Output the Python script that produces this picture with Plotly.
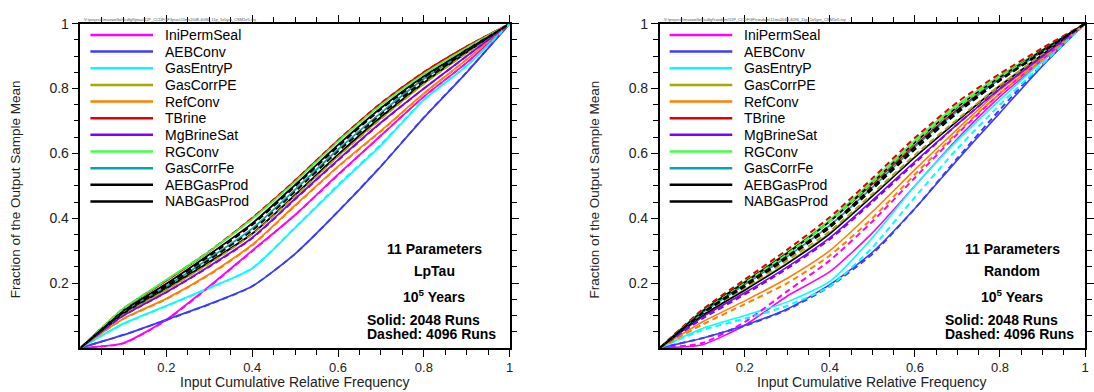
import plotly.graph_objects as go

W, H = 1094, 392

# Input cumulative relative frequency at which each curve is sampled
freq = [0.0, 0.1, 0.2, 0.3, 0.4, 0.5, 0.6, 0.7, 0.8, 0.9, 1.0]

param_names = ["IniPermSeal", "AEBConv", "GasEntryP", "GasCorrPE", "RefConv", "TBrine",
               "MgBrineSat", "RGConv", "GasCorrFe", "AEBGasProd", "NABGasProd"]
param_colors = ["#ff00ff", "#3c3cff", "#00ffff", "#a8a800", "#ff8000", "#e00000",
                "#8000ff", "#44ff44", "#00a8a8", "#000000", "#000000"]

# Fraction of the output sample mean, LpTau sampling, 2048 runs (one row per parameter)
lptau_2048 = [
    [0, 0.015, 0.087, 0.190, 0.300, 0.410, 0.535, 0.655, 0.775, 0.880, 1],
    [0, 0.040, 0.087, 0.135, 0.190, 0.290, 0.420, 0.560, 0.710, 0.850, 1],
    [0, 0.075, 0.130, 0.185, 0.245, 0.370, 0.500, 0.625, 0.765, 0.870, 1],
    [0, 0.103, 0.180, 0.262, 0.352, 0.470, 0.592, 0.708, 0.815, 0.910, 1],
    [0, 0.090, 0.152, 0.227, 0.318, 0.440, 0.560, 0.670, 0.785, 0.890, 1],
    [0, 0.120, 0.207, 0.297, 0.400, 0.516, 0.640, 0.754, 0.850, 0.930, 1],
    [0, 0.100, 0.172, 0.252, 0.340, 0.460, 0.580, 0.695, 0.800, 0.900, 1],
    [0, 0.122, 0.210, 0.298, 0.398, 0.513, 0.637, 0.750, 0.845, 0.926, 1],
    [0, 0.110, 0.190, 0.276, 0.368, 0.488, 0.612, 0.725, 0.830, 0.915, 1],
    [0, 0.115, 0.198, 0.288, 0.384, 0.503, 0.626, 0.740, 0.838, 0.920, 1],
    [0, 0.106, 0.184, 0.265, 0.352, 0.472, 0.596, 0.712, 0.818, 0.912, 1],
]

# LpTau sampling, 4096 runs
lptau_4096 = [
    [0, 0.014, 0.085, 0.188, 0.298, 0.410, 0.533, 0.655, 0.775, 0.880, 1],
    [0, 0.040, 0.086, 0.134, 0.190, 0.290, 0.421, 0.561, 0.711, 0.851, 1],
    [0, 0.074, 0.129, 0.184, 0.246, 0.372, 0.503, 0.628, 0.766, 0.871, 1],
    [0, 0.102, 0.179, 0.260, 0.350, 0.468, 0.590, 0.706, 0.814, 0.910, 1],
    [0, 0.089, 0.150, 0.225, 0.316, 0.438, 0.558, 0.668, 0.784, 0.890, 1],
    [0, 0.121, 0.208, 0.298, 0.401, 0.517, 0.641, 0.755, 0.851, 0.930, 1],
    [0, 0.099, 0.171, 0.250, 0.338, 0.458, 0.578, 0.694, 0.800, 0.900, 1],
    [0, 0.121, 0.209, 0.297, 0.397, 0.512, 0.636, 0.749, 0.845, 0.926, 1],
    [0, 0.109, 0.189, 0.275, 0.366, 0.486, 0.610, 0.724, 0.829, 0.915, 1],
    [0, 0.112, 0.194, 0.283, 0.379, 0.498, 0.621, 0.736, 0.834, 0.918, 1],
    [0, 0.109, 0.189, 0.272, 0.362, 0.482, 0.606, 0.720, 0.824, 0.915, 1],
]

# Random sampling, 2048 runs
random_2048 = [
    [0, 0.010, 0.070, 0.160, 0.235, 0.355, 0.500, 0.645, 0.775, 0.885, 1],
    [0, 0.030, 0.070, 0.120, 0.195, 0.295, 0.430, 0.580, 0.725, 0.870, 1],
    [0, 0.060, 0.100, 0.142, 0.205, 0.340, 0.500, 0.640, 0.765, 0.885, 1],
    [0, 0.100, 0.180, 0.262, 0.355, 0.470, 0.590, 0.700, 0.810, 0.905, 1],
    [0, 0.080, 0.145, 0.215, 0.300, 0.420, 0.550, 0.675, 0.795, 0.895, 1],
    [0, 0.112, 0.200, 0.290, 0.390, 0.505, 0.625, 0.735, 0.830, 0.915, 1],
    [0, 0.095, 0.170, 0.250, 0.340, 0.455, 0.575, 0.690, 0.800, 0.900, 1],
    [0, 0.115, 0.205, 0.295, 0.395, 0.515, 0.640, 0.750, 0.840, 0.920, 1],
    [0, 0.108, 0.195, 0.282, 0.378, 0.495, 0.620, 0.730, 0.830, 0.915, 1],
    [0, 0.113, 0.203, 0.293, 0.390, 0.510, 0.633, 0.743, 0.835, 0.918, 1],
    [0, 0.100, 0.178, 0.260, 0.352, 0.468, 0.588, 0.700, 0.808, 0.905, 1],
]

# Random sampling, 4096 runs
random_4096 = [
    [0, 0.015, 0.080, 0.175, 0.270, 0.390, 0.525, 0.660, 0.785, 0.890, 1],
    [0, 0.030, 0.068, 0.118, 0.190, 0.290, 0.430, 0.585, 0.735, 0.875, 1],
    [0, 0.055, 0.090, 0.130, 0.190, 0.310, 0.465, 0.615, 0.750, 0.875, 1],
    [0, 0.105, 0.185, 0.270, 0.360, 0.475, 0.595, 0.705, 0.810, 0.905, 1],
    [0, 0.072, 0.135, 0.200, 0.285, 0.400, 0.535, 0.665, 0.785, 0.890, 1],
    [0, 0.118, 0.211, 0.303, 0.403, 0.523, 0.648, 0.758, 0.846, 0.925, 1],
    [0, 0.090, 0.165, 0.245, 0.335, 0.450, 0.570, 0.690, 0.800, 0.900, 1],
    [0, 0.110, 0.200, 0.290, 0.390, 0.510, 0.635, 0.745, 0.835, 0.915, 1],
    [0, 0.105, 0.190, 0.278, 0.372, 0.490, 0.615, 0.725, 0.825, 0.912, 1],
    [0, 0.108, 0.195, 0.283, 0.378, 0.497, 0.620, 0.732, 0.828, 0.914, 1],
    [0, 0.106, 0.190, 0.278, 0.372, 0.490, 0.612, 0.725, 0.825, 0.912, 1],
]

major_ticks = [0.2, 0.4, 0.6, 0.8, 1.0]
major_labels = ["0.2", "0.4", "0.6", "0.8", "1"]
minor_ticks = [round(0.05 * k, 2) for k in range(1, 20) if k % 4 != 0]

FONT = "Liberation Sans, Arial, sans-serif"


def xp(px):
    return px / W


def yp(py):
    return 1 - py / H


panels = [
    dict(xa="x", ya="y", left=81, right=513, solid=lptau_2048, dashed=lptau_4096,
         method="LpTau", note_x=437, note_left=367, solid_w=1.8, dash_w=1.8,
         path="V:\\projects\\maxwellwh\\cdfgf\\lptau\\11P_CCDFGF\\lptau\\11ms2048,4096_11p_1e5yrs_CSM1e5.txy"),
    dict(xa="x2", ya="y2", left=664, right=1092, solid=random_2048, dashed=random_4096,
         method="Random", note_x=1019, note_left=949, solid_w=1.6, dash_w=2.0,
         path="V:\\projects\\maxwellwh\\cdfgf\\random\\11P_CCDFGF\\random\\11ms2048,4096_11p_1e5yrs_CSM1e5.txy"),
]

fig = go.Figure()

for p in panels:
    for name, color, ys in zip(param_names, param_colors, p["solid"]):
        fig.add_trace(go.Scatter(x=freq, y=ys, mode="lines", name=name, showlegend=False,
                                 line=dict(color=color, width=p["solid_w"], shape="spline",
                                           smoothing=0.6),
                                 xaxis=p["xa"], yaxis=p["ya"]))
    for name, color, ys in zip(param_names, param_colors, p["dashed"]):
        fig.add_trace(go.Scatter(x=freq, y=ys, mode="lines", name=name, showlegend=False,
                                 line=dict(color=color, width=p["dash_w"], dash="6px,4px",
                                           shape="spline", smoothing=0.6),
                                 xaxis=p["xa"], yaxis=p["ya"]))

axis_common = dict(
    range=[0, 1], showline=True, linewidth=1.6, linecolor="black", mirror="allticks",
    ticks="outside", ticklen=7, tickwidth=1.2, tickcolor="black",
    tickvals=major_ticks, ticktext=major_labels,
    minor=dict(tickvals=minor_ticks, ticks="outside", ticklen=5, tickwidth=1.2, tickcolor="black"),
    showgrid=False, zeroline=False, fixedrange=True,
)
x_font = dict(family=FONT, size=13, color="#222222")
y_font = dict(family=FONT, size=14, color="#222222")

y_dom = [yp(347), yp(16)]
fig.update_layout(
    xaxis=dict(domain=[xp(81), xp(513)], anchor="y", tickfont=x_font, **axis_common),
    yaxis=dict(domain=y_dom, anchor="x", tickfont=y_font, **axis_common),
    xaxis2=dict(domain=[xp(664), xp(1092)], anchor="y2", tickfont=x_font, **axis_common),
    yaxis2=dict(domain=y_dom, anchor="x2", tickfont=y_font, **axis_common),
)

annotations = []
shapes = []

for p in panels:
    mid = (p["left"] + p["right"]) / 2
    # axis titles
    annotations.append(dict(xref="paper", yref="paper", x=xp(mid), y=yp(382),
                            text="Input Cumulative Relative Frequency", showarrow=False,
                            font=dict(family=FONT, size=14, color="#222222"),
                            xanchor="center", yanchor="middle"))
    annotations.append(dict(xref="paper", yref="paper", x=xp(p["left"] - 66), y=yp(185),
                            text="Fraction of the Output Sample Mean", showarrow=False,
                            textangle=-90, font=dict(family=FONT, size=13.5, color="#222222"),
                            xanchor="center", yanchor="middle"))
    # source file path printed above the frame
    annotations.append(dict(xref="paper", yref="paper", x=xp(p["left"] + 2), y=yp(12),
                            text=p["path"], showarrow=False,
                            font=dict(family=FONT, size=4, color="#555555"),
                            xanchor="left", yanchor="middle"))
    # legend block
    lx0 = p["left"] + 10
    for i, (name, color) in enumerate(zip(param_names, param_colors)):
        row_y = 27.5 + 17 * i
        shapes.append(dict(type="line", xref="paper", yref="paper",
                           x0=xp(lx0), x1=xp(lx0 + 63), y0=yp(row_y), y1=yp(row_y),
                           line=dict(color=color, width=2.5)))
        annotations.append(dict(xref="paper", yref="paper", x=xp(lx0 + 73), y=yp(row_y),
                                text=name, showarrow=False,
                                font=dict(family=FONT, size=14, color="black"),
                                xanchor="left", yanchor="middle"))
    # run notes
    nx = p["note_x"]
    bold = dict(family=FONT, size=14, color="black")
    for txt, ty in [("<b>11 Parameters</b>", 246), ("<b>" + p["method"] + "</b>", 268),
                    ("<b>10<sup>5</sup> Years</b>", 294)]:
        annotations.append(dict(xref="paper", yref="paper", x=xp(nx), y=yp(ty), text=txt,
                                showarrow=False, font=bold, xanchor="center", yanchor="middle"))
    for txt, ty in [("<b>Solid: 2048 Runs</b>", 318), ("<b>Dashed: 4096 Runs</b>", 333)]:
        annotations.append(dict(xref="paper", yref="paper", x=xp(p["note_left"]), y=yp(ty),
                                text=txt, showarrow=False, font=bold,
                                xanchor="left", yanchor="middle"))

fig.update_layout(
    width=W, height=H, margin=dict(l=0, r=0, t=0, b=0),
    paper_bgcolor="white", plot_bgcolor="white", showlegend=False,
    annotations=annotations, shapes=shapes,
    font=dict(family=FONT),
)

fig.write_html("out.html", config=dict(displayModeBar=False))
